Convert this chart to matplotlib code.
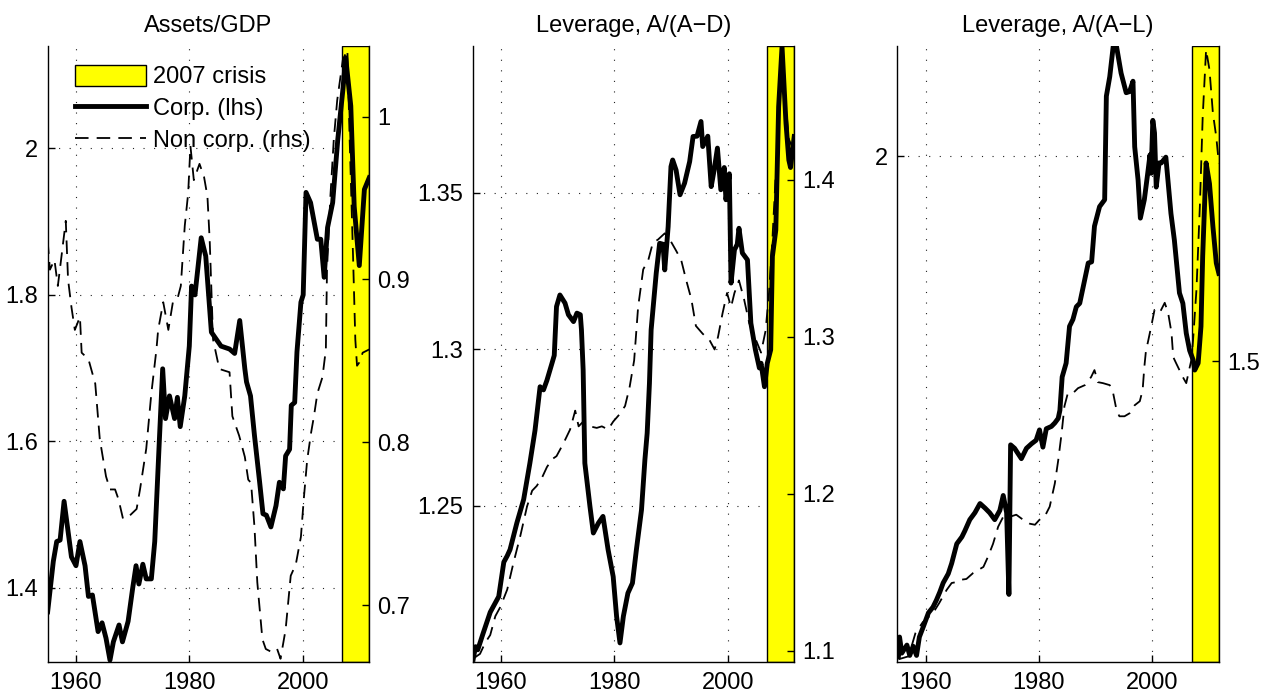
import matplotlib
matplotlib.use('Agg')
import matplotlib.pyplot as plt
from matplotlib.patches import Patch
from matplotlib.lines import Line2D
from matplotlib.ticker import FormatStrFormatter

plt.rcParams['font.family'] = ['Liberation Sans', 'DejaVu Sans']

# ---- Assets/GDP ----
assets_corp_t = [1955.0, 1956.0, 1956.6, 1957.2, 1957.9, 1959.2, 1960.0, 1960.7, 1961.6, 1962.2,
                 1962.9, 1963.9, 1964.6, 1965.3, 1966.0, 1966.6, 1967.6, 1968.2, 1969.2, 1970.0,
                 1970.6, 1971.1, 1971.8, 1972.4, 1973.3, 1973.9, 1974.7, 1975.3, 1975.8, 1976.5,
                 1977.4, 1977.9, 1978.4, 1979.2, 1980.0, 1980.4, 1981.0, 1982.1, 1982.9, 1983.9,
                 1984.7, 1985.6, 1987.1, 1988.0, 1988.9, 1989.8, 1990.1, 1990.8, 1991.5, 1992.4,
                 1993.0, 1993.6, 1994.4, 1995.3, 1995.9, 1996.6, 1997.0, 1997.7, 1998.0, 1998.6,
                 1999.0, 1999.7, 2000.1, 2000.6, 2001.4, 2002.6, 2003.2, 2003.8, 2004.4, 2005.3,
                 2006.2, 2007.1, 2007.6, 2008.5, 2009.1, 2010.0, 2010.9, 2011.75]
assets_corp = [1.367, 1.436, 1.463, 1.465, 1.518, 1.442, 1.430, 1.463, 1.430, 1.388,
               1.390, 1.340, 1.352, 1.331, 1.301, 1.326, 1.349, 1.326, 1.354, 1.399,
               1.430, 1.405, 1.432, 1.412, 1.412, 1.463, 1.599, 1.699, 1.631, 1.662,
               1.631, 1.660, 1.620, 1.662, 1.730, 1.812, 1.800, 1.878, 1.853, 1.749,
               1.740, 1.730, 1.726, 1.720, 1.765, 1.699, 1.681, 1.662, 1.608, 1.545,
               1.501, 1.499, 1.483, 1.512, 1.544, 1.535, 1.580, 1.589, 1.649, 1.653,
               1.722, 1.790, 1.800, 1.940, 1.926, 1.876, 1.876, 1.824, 1.892, 1.926,
               2.012, 2.080, 2.124, 2.058, 1.921, 1.840, 1.944, 1.960]

assets_noncorp_t = [1955.0, 1955.4, 1956.2, 1956.8, 1957.4, 1958.2, 1958.6, 1959.2, 1959.8, 1960.7,
                    1961.0, 1962.2, 1963.4, 1964.2, 1965.3, 1966.0, 1966.9, 1967.5, 1968.3, 1969.5,
                    1970.7, 1971.3, 1972.4, 1973.3, 1974.2, 1974.5, 1975.4, 1976.3, 1977.1, 1977.9,
                    1978.5, 1979.2, 1979.8, 1980.2, 1980.8, 1981.8, 1982.6, 1983.2, 1983.6, 1984.2,
                    1985.3, 1987.1, 1987.6, 1988.8, 1989.8, 1990.4, 1990.9, 1991.5, 1992.0, 1992.9,
                    1993.5, 1994.6, 1995.5, 1996.1, 1997.0, 1997.9, 1998.8, 1999.7, 2000.2, 2000.8,
                    2001.5, 2002.0, 2002.6, 2003.5, 2004.1, 2004.3, 2004.9, 2005.5, 2006.1, 2007.1,
                    2007.9, 2008.3, 2008.9, 2009.3, 2009.6, 2010.0, 2010.6, 2011.75]
assets_noncorp = [0.924, 0.906, 0.912, 0.896, 0.913, 0.936, 0.900, 0.883, 0.869, 0.877,
                  0.855, 0.851, 0.836, 0.802, 0.779, 0.771, 0.771, 0.765, 0.753, 0.755,
                  0.759, 0.771, 0.796, 0.830, 0.857, 0.869, 0.886, 0.869, 0.886, 0.888,
                  0.896, 0.933, 0.953, 0.982, 0.961, 0.971, 0.963, 0.951, 0.924, 0.863,
                  0.845, 0.843, 0.816, 0.804, 0.791, 0.777, 0.775, 0.748, 0.714, 0.679,
                  0.673, 0.671, 0.673, 0.667, 0.685, 0.718, 0.725, 0.742, 0.765, 0.789,
                  0.806, 0.816, 0.830, 0.840, 0.857, 0.906, 0.951, 0.986, 1.010, 1.035,
                  1.041, 0.986, 0.914, 0.863, 0.847, 0.849, 0.855, 0.857]

# ---- Leverage, A/(A-D) ----
levd_corp_t = [1955.1, 1955.5, 1955.9, 1956.8, 1958.1, 1959.0, 1959.6, 1960.5, 1961.1, 1961.6,
               1962.8, 1964.0, 1965.1, 1966.0, 1966.9, 1967.5, 1968.1, 1969.0, 1969.4, 1969.8,
               1970.4, 1971.3, 1971.9, 1972.8, 1973.4, 1974.0, 1974.2, 1974.5, 1974.8, 1975.7,
               1976.3, 1977.2, 1978.0, 1978.9, 1979.8, 1980.4, 1981.0, 1981.6, 1982.4, 1983.2,
               1983.9, 1984.8, 1985.4, 1985.8, 1986.2, 1986.5, 1987.4, 1988.0, 1988.6, 1988.9,
               1989.5, 1990.0, 1990.3, 1990.9, 1991.6, 1992.4, 1993.3, 1993.9, 1994.6, 1995.3,
               1995.6, 1996.5, 1997.1, 1997.6, 1998.2, 1998.8, 1999.4, 1999.7, 2000.3, 2000.6,
               2001.2, 2001.7, 2002.0, 2002.6, 2003.5, 2004.1, 2004.9, 2005.6, 2005.9, 2006.5,
               2007.0, 2007.6, 2007.9, 2008.5, 2009.0, 2009.6, 2010.3, 2010.8, 2011.1, 2011.75]
levd_corp = [1.201, 1.205, 1.204, 1.209, 1.216, 1.219, 1.221, 1.232, 1.234, 1.236,
             1.2445, 1.252, 1.2636, 1.274, 1.288, 1.287, 1.290, 1.2955, 1.298, 1.3136,
             1.3173, 1.3147, 1.311, 1.3088, 1.3115, 1.311, 1.3062, 1.2934, 1.2636, 1.2498,
             1.2413, 1.2445, 1.2466, 1.236, 1.2274, 1.2147, 1.2062, 1.2147, 1.2221, 1.2253,
             1.236, 1.2487, 1.2647, 1.2732, 1.2891, 1.3062, 1.3243, 1.3338, 1.3335, 1.3253,
             1.3391, 1.3583, 1.3604, 1.3572, 1.3493, 1.353, 1.3599, 1.3679, 1.368, 1.3727,
             1.3647, 1.368, 1.3519, 1.357, 1.3642, 1.3509, 1.358, 1.3477, 1.356, 1.3211,
             1.3317, 1.3335, 1.3386, 1.3307, 1.3285, 1.3083, 1.2998, 1.294, 1.2955, 1.288,
             1.2955, 1.2998, 1.3296, 1.338, 1.3774, 1.3966, 1.3721, 1.3604, 1.358, 1.3679]

levd_noncorp_t = [1955.5, 1956.3, 1957.2, 1958.1, 1959.0, 1959.9, 1961.1, 1962.2, 1963.4, 1964.6,
                  1965.5, 1966.3, 1967.2, 1968.1, 1969.0, 1969.8, 1971.0, 1972.2, 1973.1, 1973.7,
                  1974.5, 1975.7, 1976.9, 1977.8, 1978.9, 1979.8, 1981.0, 1981.9, 1982.7, 1983.5,
                  1984.2, 1985.1, 1986.0, 1986.8, 1987.7, 1988.9, 1989.8, 1990.9, 1991.8, 1992.7,
                  1993.6, 1994.4, 1995.6, 1996.8, 1997.7, 1998.3, 1999.1, 1999.9, 2000.6, 2001.2,
                  2002.0, 2002.9, 2003.8, 2005.0, 2005.9, 2006.7, 2007.3, 2007.9, 2008.5, 2009.1,
                  2009.7, 2010.3, 2010.8, 2011.4, 2011.75]
levd_noncorp = [1.096, 1.098, 1.105, 1.110, 1.122, 1.128, 1.139, 1.156, 1.173, 1.192,
                1.202, 1.205, 1.210, 1.217, 1.222, 1.224, 1.232, 1.241, 1.253, 1.243,
                1.246, 1.243, 1.242, 1.243, 1.241, 1.246, 1.251, 1.256, 1.268, 1.285,
                1.319, 1.343, 1.349, 1.360, 1.362, 1.366, 1.362, 1.355, 1.349, 1.336,
                1.324, 1.307, 1.302, 1.298, 1.292, 1.300, 1.315, 1.328, 1.319, 1.328,
                1.336, 1.324, 1.309, 1.298, 1.290, 1.304, 1.328, 1.362, 1.404, 1.447,
                1.485, 1.447, 1.426, 1.421, 1.420]

# ---- Leverage, A/(A-L) ----
levl_corp_t = [1955.2, 1955.4, 1955.8, 1956.7, 1957.2, 1957.8, 1958.4, 1958.9, 1959.6, 1960.5,
               1961.3, 1961.9, 1962.5, 1963.1, 1964.0, 1964.6, 1965.5, 1966.4, 1966.9, 1967.8,
               1968.7, 1969.6, 1970.5, 1971.3, 1972.2, 1973.1, 1973.7, 1974.3, 1974.7, 1975.0,
               1975.7, 1976.9, 1977.8, 1978.7, 1979.5, 1980.1, 1980.7, 1981.3, 1982.2, 1982.8,
               1983.4, 1983.7, 1984.1, 1984.8, 1985.4, 1986.0, 1986.6, 1987.2, 1987.8, 1988.7,
               1989.3, 1989.8, 1990.7, 1991.6, 1991.9, 1992.5, 1993.1, 1993.7, 1994.5, 1995.4,
               1996.0, 1996.6, 1996.9, 1997.5, 1997.9, 1998.6, 1999.2, 1999.6, 1999.8, 2000.1,
               2000.4, 2000.7, 2001.2, 2001.6, 2002.4, 2003.3, 2003.9, 2004.8, 2005.4, 2006.0,
               2006.6, 2007.2, 2007.5, 2008.1, 2008.6, 2008.9, 2009.5, 2010.1, 2010.7, 2011.3,
               2011.75]
levl_corp = [1.565, 1.582, 1.568, 1.575, 1.566, 1.574, 1.566, 1.582, 1.591, 1.603,
             1.608, 1.614, 1.621, 1.629, 1.637, 1.646, 1.663, 1.669, 1.674, 1.684,
             1.690, 1.698, 1.694, 1.690, 1.684, 1.692, 1.705, 1.690, 1.619, 1.749,
             1.746, 1.737, 1.746, 1.750, 1.753, 1.762, 1.747, 1.763, 1.765, 1.768,
             1.772, 1.779, 1.808, 1.820, 1.852, 1.858, 1.869, 1.872, 1.886, 1.907,
             1.908, 1.939, 1.956, 1.962, 2.052, 2.069, 2.095, 2.095, 2.072, 2.055,
             2.056, 2.065, 2.008, 1.979, 1.946, 1.962, 1.985, 2.001, 1.985, 2.031,
             2.020, 1.973, 1.994, 1.994, 1.999, 1.950, 1.927, 1.881, 1.872, 1.846,
             1.831, 1.823, 1.814, 1.820, 1.852, 1.913, 1.994, 1.976, 1.939, 1.907,
             1.898]

levl_noncorp_t = [1955.2, 1957.0, 1958.2, 1959.5, 1961.3, 1962.4, 1963.7, 1964.6, 1965.5, 1966.0,
                  1967.2, 1968.4, 1970.2, 1971.0, 1971.9, 1972.8, 1973.7, 1974.9, 1976.0, 1977.2,
                  1978.4, 1979.3, 1980.1, 1981.0, 1981.9, 1982.8, 1983.4, 1984.0, 1984.5, 1985.1,
                  1986.0, 1986.9, 1988.1, 1989.2, 1989.8, 1990.4, 1991.3, 1992.5, 1993.1, 1993.7,
                  1994.2, 1995.1, 1996.0, 1996.9, 1997.8, 1998.3, 1998.6, 1998.9, 1999.2, 1999.8,
                  2000.4, 2001.3, 2002.2, 2002.8, 2003.4, 2003.7, 2004.2, 2004.8, 2005.4, 2006.0,
                  2006.5, 2006.9, 2007.2, 2007.8, 2008.4, 2008.9, 2009.5, 2010.1, 2010.7, 2011.3,
                  2011.75]
levl_noncorp = [1.203, 1.206, 1.229, 1.240, 1.249, 1.259, 1.272, 1.279, 1.280, 1.282,
                1.283, 1.289, 1.295, 1.305, 1.318, 1.335, 1.345, 1.345, 1.347, 1.342,
                1.338, 1.337, 1.342, 1.345, 1.355, 1.378, 1.401, 1.428, 1.455, 1.468,
                1.468, 1.473, 1.476, 1.484, 1.491, 1.479, 1.478, 1.476, 1.468, 1.451,
                1.445, 1.445, 1.448, 1.456, 1.460, 1.471, 1.494, 1.511, 1.518, 1.534,
                1.551, 1.548, 1.558, 1.548, 1.528, 1.504, 1.498, 1.491, 1.484, 1.478,
                1.491, 1.501, 1.521, 1.571, 1.654, 1.743, 1.810, 1.790, 1.747, 1.723,
                1.697]

titles = ['Assets/GDP', 'Leverage, A/(A\u2212D)', 'Leverage, A/(A\u2212L)']
crisis = (2007.0, 2011.75)
xlim = (1955.0, 2011.75)
x_ticks = [1960, 1980, 2000]

panels = [
    dict(t1=assets_corp_t, y1=assets_corp, t2=assets_noncorp_t, y2=assets_noncorp,
         lim1=(1.298, 2.140), lim2=(0.6648, 1.0434),
         ticks1=[1.4, 1.6, 1.8, 2.0], ticks2=[0.7, 0.8, 0.9, 1.0]),
    dict(t1=levd_corp_t, y1=levd_corp, t2=levd_noncorp_t, y2=levd_noncorp,
         lim1=(1.2, 1.3968), lim2=(1.0926, 1.4854),
         ticks1=[1.25, 1.30, 1.35], ticks2=[1.1, 1.2, 1.3, 1.4]),
    dict(t1=levl_corp_t, y1=levl_corp, t2=levl_noncorp_t, y2=levl_noncorp,
         lim1=(1.56, 2.0956), lim2=(1.2, 1.8137),
         ticks1=[2.0], ticks2=[1.5]),
]

fig = plt.figure(figsize=(12.74, 6.98), dpi=100)
lefts = [0.0374, 0.371, 0.7043]
FS = 17
SOLID_LW = 3.5
DASH_LW = 1.3
DASHES = (7.5, 4.5)

for i, p in enumerate(panels):
    ax = fig.add_axes([lefts[i], 0.0511, 0.2524, 0.883])
    ax2 = ax.twinx()

    # crisis band, corporate series on the left scale, non-corporate on the right
    ax.axvspan(crisis[0], crisis[1], facecolor='#ffff00', edgecolor='k', lw=1.0, zorder=1)
    ax.plot(p['t1'], p['y1'], color='k', lw=SOLID_LW, zorder=3, solid_joinstyle='round')
    ax2.plot(p['t2'], p['y2'], color='k', lw=DASH_LW, dashes=DASHES, zorder=3)

    ax.set_xlim(*xlim)
    ax.set_ylim(*p['lim1'])
    ax2.set_ylim(*p['lim2'])
    ax.set_xticks(x_ticks)
    ax.set_yticks(p['ticks1'])
    ax2.set_yticks(p['ticks2'])
    ax.yaxis.set_major_formatter(FormatStrFormatter('%g'))
    ax2.yaxis.set_major_formatter(FormatStrFormatter('%g'))

    ax.set_axisbelow(True)
    ax.grid(True, linestyle=(0, (1, 8.5)), color='#222222', lw=0.8)

    for a in (ax, ax2):
        a.spines['top'].set_visible(False)
        for s in a.spines.values():
            s.set_linewidth(1.0)
        a.tick_params(direction='in', length=5, width=1, labelsize=FS, pad=7)
    ax.spines['right'].set_visible(False)
    ax2.spines['left'].set_visible(False)
    ax2.spines['bottom'].set_visible(False)
    ax2.tick_params(axis='y', pad=6)

    ax.set_title(titles[i], fontsize=FS, pad=10)

    if i == 0:
        handles = [Patch(facecolor='#ffff00', edgecolor='k', lw=1.0),
                   Line2D([], [], color='k', lw=SOLID_LW),
                   Line2D([], [], color='k', lw=DASH_LW, dashes=DASHES)]
        ax2.legend(handles, ['2007 crisis', 'Corp. (lhs)', 'Non corp. (rhs)'],
                   loc='upper left', bbox_to_anchor=(0.055, 0.985), frameon=False,
                   fontsize=FS, handlelength=3.0, handleheight=1.0,
                   handletextpad=0.3, labelspacing=0.35, borderaxespad=0)

fig.savefig('out.png', dpi=100)
